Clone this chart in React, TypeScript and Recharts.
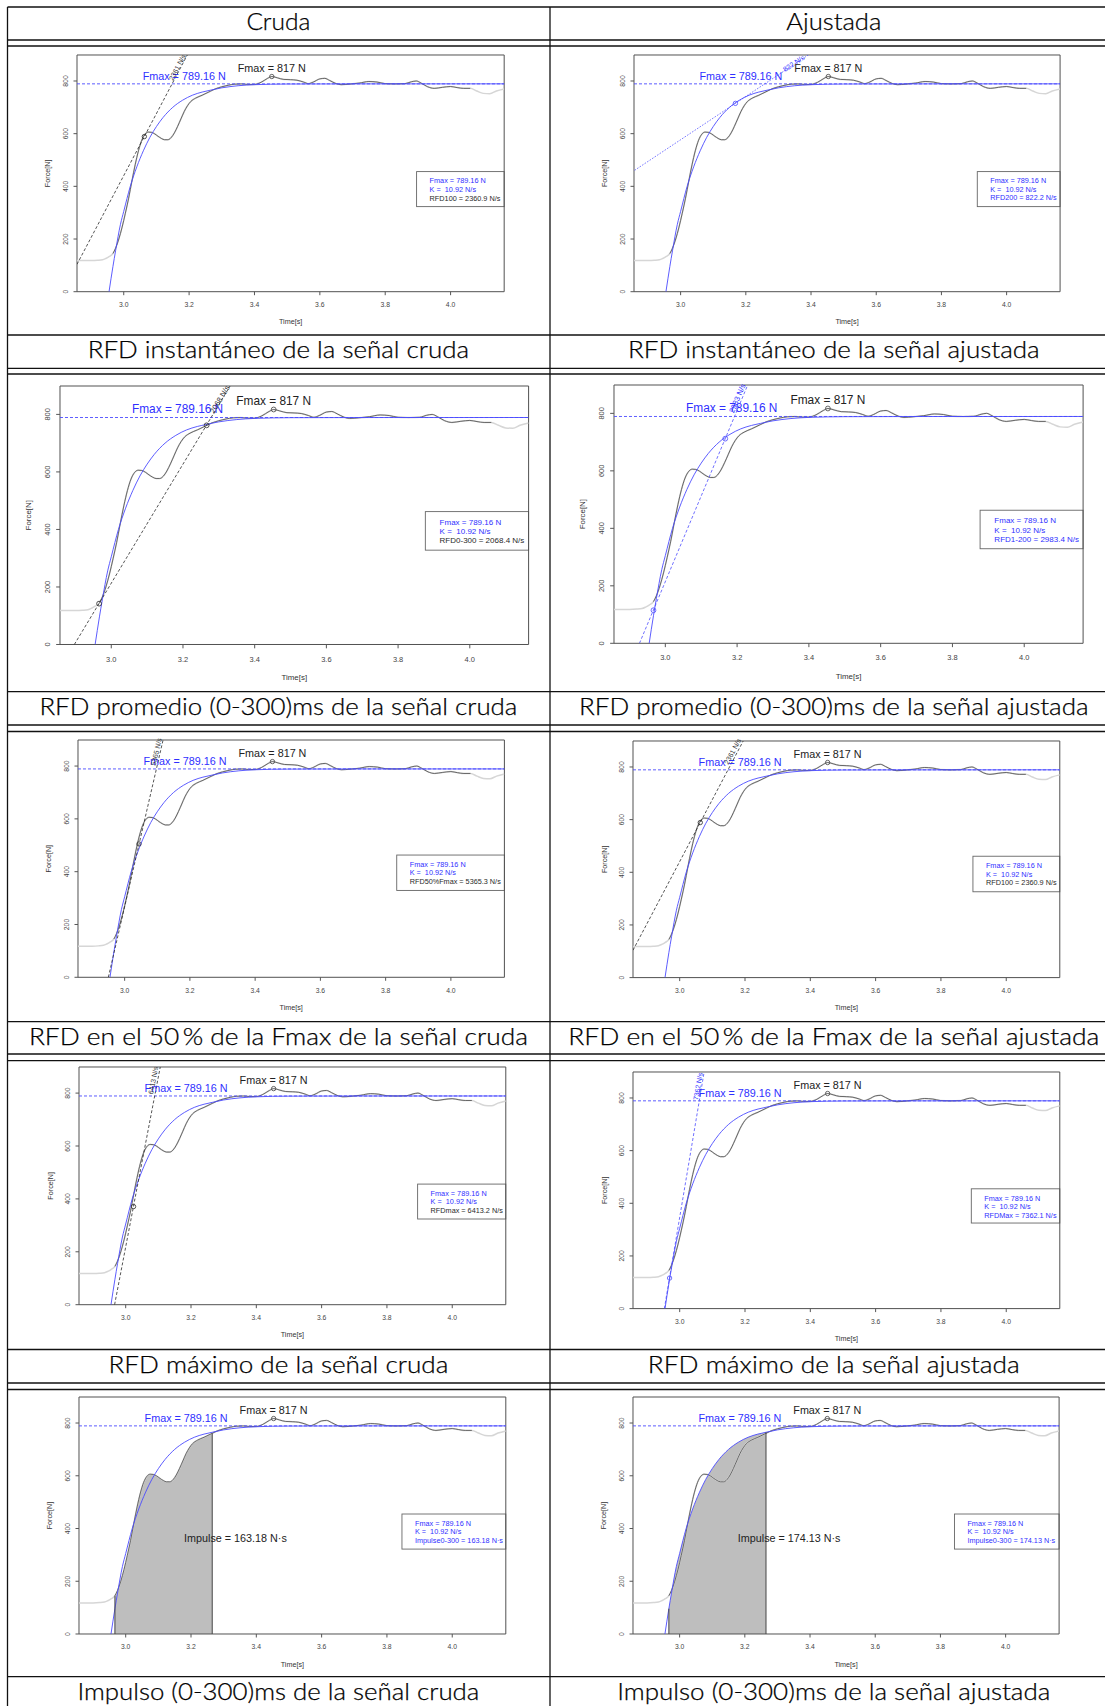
import React from "react";
import {
  ComposedChart,
  Line,
  Area,
  XAxis,
  YAxis,
  ReferenceLine,
  ReferenceDot,
  ReferenceArea,
} from "recharts";

// señal cruda: tiempo [s] y fuerza [N]
const rawTime = [
  2.857, 2.88, 2.9, 2.92, 2.935, 2.945, 2.955, 2.967, 2.975, 2.985, 2.995, 3.005, 3.015, 3.025,
  3.035, 3.045, 3.055, 3.065, 3.075, 3.085, 3.095, 3.105, 3.115, 3.125, 3.135, 3.145, 3.155,
  3.165, 3.175, 3.185, 3.195, 3.205, 3.22, 3.24, 3.265, 3.28, 3.3, 3.32, 3.34, 3.36, 3.38, 3.4,
  3.42, 3.44, 3.453, 3.47, 3.49, 3.51, 3.53, 3.55, 3.565, 3.58, 3.6, 3.615, 3.63, 3.65, 3.665,
  3.69, 3.72, 3.75, 3.775, 3.8, 3.83, 3.86, 3.88, 3.895, 3.91, 3.93, 3.95, 3.975, 4.0, 4.02,
  4.04, 4.06, 4.08, 4.1, 4.12, 4.14, 4.164,
];
const rawForce = [
  118, 118, 118, 119, 121, 126, 133, 145, 165, 200, 245, 298, 355, 420, 482, 535, 575, 598, 606,
  605, 599, 590, 582, 577, 577, 585, 603, 628, 656, 684, 706, 722, 735, 746, 761, 770, 778, 784,
  788, 789, 787, 787, 795, 810, 817, 812, 806, 805, 803, 796, 790, 796, 808, 810, 802, 790, 786,
  788, 792, 798, 796, 790, 789, 790, 797, 800, 792, 778, 772, 776, 779, 775, 772, 772, 762, 753,
  752, 762, 770,
];

// señal ajustada (curva azul)
const fitTime = [
  2.955, 2.967, 2.975, 2.99, 3.0, 3.02, 3.04, 3.06, 3.08, 3.1, 3.12, 3.15, 3.18, 3.21, 3.24,
  3.265, 3.3, 3.35, 3.4, 3.5, 3.7, 4.164,
];
const fitForce = [
  0, 96, 155, 256, 305, 400, 474, 535, 586, 627, 661, 700, 727, 746, 758, 765, 774, 782, 786,
  788.5, 789, 789.16,
];

const xTicks = [3.0, 3.2, 3.4, 3.6, 3.8, 4.0];
const yTicks = [0, 200, 400, 600, 800];
const X_DOMAIN: [number, number] = [2.857, 4.164];
const Y_DOMAIN: [number, number] = [0, 898.7];

const FMAX_FIT = 789.16;
const FMAX_RAW = 817;
const T_PEAK = 3.453;
const DARK_FROM = 2.967;
const DARK_TO = 4.06;
const IMP_FROM = 2.967;
const IMP_TO = 3.265;

// rectas tangentes (dos puntos cada una)
const tan100 = [{ t: 2.857, f: 104 }, { t: 3.195, f: 900 }];
const tan200 = [{ t: 2.859, f: 461 }, { t: 3.393, f: 900 }];
const tan0300 = [{ t: 2.897, f: 0 }, { t: 3.332, f: 900 }];
const tan1200 = [{ t: 2.928, f: 0 }, { t: 3.23, f: 900 }];
const tan50 = [{ t: 2.95, f: 0 }, { t: 3.118, f: 900 }];
const tanMaxRaw = [{ t: 2.966, f: 0 }, { t: 3.106, f: 900 }];
const tanMaxFit = [{ t: 2.953, f: 0 }, { t: 3.075, f: 900 }];

const rawSeries = rawTime.map((t, i) => ({ t, f: rawForce[i] }));
const rawDark = rawSeries.filter((d) => d.t >= DARK_FROM && d.t <= DARK_TO);
const fitSeries = fitTime.map((t, i) => ({ t, f: fitForce[i] }));
const rawImpulse = rawSeries.filter((d) => d.t >= IMP_FROM && d.t <= IMP_TO);
const fitImpulse = fitSeries.filter((d) => d.t >= IMP_FROM && d.t <= IMP_TO);

const BLUE = "#2f2fff";
const BLUE_LINE = "#4b4bff";
const DARK = "#2a2a2a";
const RFONT = "'Liberation Sans', Arial, sans-serif";

type Pt = { t: number; f: number };
type PanelDef = {
  tangent?: Pt[];
  tanColor?: string;
  tanDash?: string;
  slope?: number;
  slopeText?: string;
  slopeAt?: Pt;
  marks: Pt[];
  markColor: string;
  legend3: string;
  legend3Color: string;
  legendBox: [number, number, number];
  impulse?: "raw" | "fit";
  impulseText?: string;
};

const panels: PanelDef[] = [
  {
    tangent: tan100, tanColor: DARK, tanDash: "3 2", slope: 2360.9, slopeText: "2361 N/s",
    slopeAt: { t: 3.164, f: 852 }, marks: [{ t: 3.063, f: 589 }], markColor: DARK,
    legend3: "RFD100 = 2360.9 N/s", legend3Color: DARK, legendBox: [3.896, 323, 456],
  },
  {
    tangent: tan200, tanColor: BLUE_LINE, tanDash: "1.5 1.5", slope: 822.2, slopeText: "822 N/s",
    slopeAt: { t: 3.347, f: 867 }, marks: [{ t: 3.168, f: 715 }], markColor: BLUE_LINE,
    legend3: "RFD200 = 822.2 N/s", legend3Color: BLUE, legendBox: [3.91, 323, 456],
  },
  {
    tangent: tan0300, tanColor: DARK, tanDash: "3 2", slope: 2068.4, slopeText: "2068 N/s",
    slopeAt: { t: 3.303, f: 852 }, marks: [{ t: 2.966, f: 142 }, { t: 3.266, f: 762 }],
    markColor: DARK, legend3: "RFD0-300 = 2068.4 N/s", legend3Color: DARK,
    legendBox: [3.876, 328, 462],
  },
  {
    tangent: tan1200, tanColor: BLUE_LINE, tanDash: "3 2", slope: 2983.4, slopeText: "2983 N/s",
    slopeAt: { t: 3.201, f: 852 }, marks: [{ t: 2.967, f: 115 }, { t: 3.167, f: 712 }],
    markColor: BLUE_LINE, legend3: "RFD1-200 = 2983.4 N/s", legend3Color: BLUE,
    legendBox: [3.877, 329, 463],
  },
  {
    tangent: tan50, tanColor: DARK, tanDash: "3 2", slope: 5365.3, slopeText: "5365 N/s",
    slopeAt: { t: 3.097, f: 854 }, marks: [{ t: 3.044, f: 505 }], markColor: DARK,
    legend3: "RFD50%Fmax = 5365.3 N/s", legend3Color: DARK, legendBox: [3.834, 329, 463],
  },
  {
    tangent: tan100, tanColor: DARK, tanDash: "3 2", slope: 2360.9, slopeText: "2361 N/s",
    slopeAt: { t: 3.162, f: 859 }, marks: [{ t: 3.063, f: 589 }], markColor: DARK,
    legend3: "RFD100 = 2360.9 N/s", legend3Color: DARK, legendBox: [3.898, 326, 461],
  },
  {
    tangent: tanMaxRaw, tanColor: DARK, tanDash: "3 2", slope: 6413.2, slopeText: "6413 N/s",
    slopeAt: { t: 3.084, f: 848 }, marks: [{ t: 3.024, f: 371 }], markColor: DARK,
    legend3: "RFDmax = 6413.2 N/s", legend3Color: DARK, legendBox: [3.894, 324, 456],
  },
  {
    tangent: tanMaxFit, tanColor: BLUE_LINE, tanDash: "3 2", slope: 7362.1, slopeText: "7362 N/s",
    slopeAt: { t: 3.056, f: 844 }, marks: [{ t: 2.969, f: 116 }], markColor: BLUE_LINE,
    legend3: "RFDMax = 7362.1 N/s", legend3Color: BLUE, legendBox: [3.893, 325, 455],
  },
  {
    marks: [], markColor: DARK, impulse: "raw", impulseText: "Impulse = 163.18 N·s",
    legend3: "Impulse0-300 = 163.18 N·s", legend3Color: BLUE, legendBox: [3.846, 322, 455],
  },
  {
    marks: [], markColor: DARK, impulse: "fit", impulseText: "Impulse = 174.13 N·s",
    legend3: "Impulse0-300 = 174.13 N·s", legend3Color: BLUE, legendBox: [3.843, 322, 455],
  },
];

// plot-area rectangles on the page (left, right, top, bottom)
const panelBoxes = [
  { L: 77.1, R: 504.3, T: 55.3, B: 292 },
  { L: 634.3, R: 1060.4, T: 55.3, B: 292 },
  { L: 60, R: 528.6, T: 385.5, B: 644 },
  { L: 613.9, R: 1083, T: 385, B: 643.3 },
  { L: 77.9, R: 504.3, T: 740, B: 977.3 },
  { L: 632.5, R: 1059.3, T: 740.7, B: 977.3 },
  { L: 78.6, R: 505.4, T: 1067.3, B: 1305 },
  { L: 632.5, R: 1059.3, T: 1071.7, B: 1308.3 },
  { L: 78.6, R: 505.4, T: 1397.3, B: 1634.3 },
  { L: 633.2, R: 1059.3, T: 1397.3, B: 1634.3 },
];

const headers = ["Cruda", "Ajustada"];
const captions = [
  ["RFD instantáneo de la señal cruda", "RFD instantáneo de la señal ajustada"],
  ["RFD promedio (0-300)ms de la señal cruda", "RFD promedio (0-300)ms de la señal ajustada"],
  ["RFD en el 50\u2009% de la Fmax de la señal cruda", "RFD en el 50\u2009% de la Fmax de la señal ajustada"],
  ["RFD máximo de la señal cruda", "RFD máximo de la señal ajustada"],
  ["Impulso (0-300)ms de la señal cruda", "Impulso (0-300)ms de la señal ajustada"],
];
const headerWidths = [64, 95];
const captionWidths = [
  [381.5, 411.7],
  [478, 509.6],
  [499, 531],
  [340, 372],
  [402, 433],
];
const captionBaselines = [358, 715, 1044.7, 1372.5, 1699.5];
const hLines = [7, 40, 46, 335, 368.3, 374, 691.7, 725, 731.5, 1021.7, 1054, 1060.7, 1349.5, 1383, 1389.5, 1676.7];
const colCenters = [278.4, 833.8];

function TableFrame() {
  const font = "Lato, 'Open Sans', sans-serif";
  return (
    <svg width={1105} height={1706} style={{ position: "absolute", left: 0, top: 0 }}>
      {hLines.map((y) => (
        <line key={y} x1={7.5} x2={1105} y1={y} y2={y} stroke="#111" strokeWidth={1.3} />
      ))}
      <line x1={7.5} x2={7.5} y1={7} y2={1706} stroke="#111" strokeWidth={1.3} />
      <line x1={550} x2={550} y1={7} y2={1706} stroke="#111" strokeWidth={1.3} />
      {headers.map((h, i) => (
        <text key={h} x={colCenters[i]} y={30} fontSize={23} fontWeight={300} fontFamily={font} textAnchor="middle"
          textLength={headerWidths[i]} lengthAdjust="spacingAndGlyphs" fill="#000" stroke="#000" strokeWidth={0.25}>{h}</text>
      ))}
      {captions.map((row, r) =>
        row.map((c, i) => (
          <text key={c} x={colCenters[i]} y={captionBaselines[r]} fontSize={23} fontWeight={300} fontFamily={font}
            textAnchor="middle" textLength={captionWidths[r][i]} lengthAdjust="spacingAndGlyphs"
            fill="#000" stroke="#000" strokeWidth={0.25}>{c}</text>
        ))
      )}
    </svg>
  );
}

function ForcePanel({ panel, box }: { panel: PanelDef; box: { L: number; R: number; T: number; B: number } }) {
  const ML = 60, MR = 8, MT = 8, MB = 46;
  const pw = box.R - box.L;
  const ph = box.B - box.T;
  const s = pw / 427;
  const pxPerT = pw / (X_DOMAIN[1] - X_DOMAIN[0]);
  const pxPerF = ph / (Y_DOMAIN[1] - Y_DOMAIN[0]);
  const tickFs = 6.8 * s;

  const xTick = (p: any) => (
    <text x={p.x} y={MT + ph + 15.5 * s} textAnchor="middle" fontSize={tickFs} fontFamily={RFONT} fill="#444">
      {Number(p.payload.value).toFixed(1)}
    </text>
  );
  const yTick = (p: any) => {
    const cx = ML - 11.7 * s;
    return (
      <text x={cx} y={p.y} textAnchor="middle" dominantBaseline="central" fontSize={tickFs}
        fontFamily={RFONT} fill="#444" transform={`rotate(-90 ${cx} ${p.y})`}>
        {p.payload.value}
      </text>
    );
  };
  const xTitle = () => (
    <text x={ML + pw / 2} y={MT + ph + 32.6 * s} textAnchor="middle" fontSize={7.2 * s} fontFamily={RFONT} fill="#333">
      Time[s]
    </text>
  );
  const yTitle = () => {
    const cx = ML - 29 * s;
    const cy = MT + ph / 2;
    return (
      <text x={cx} y={cy} textAnchor="middle" dominantBaseline="central" fontSize={7.2 * s} fontFamily={RFONT}
        fill="#333" transform={`rotate(-90 ${cx} ${cy})`}>
        Force[N]
      </text>
    );
  };

  const angle = panel.slope ? (Math.atan((panel.slope * pxPerF) / pxPerT) * 180) / Math.PI : 0;
  const impData = panel.impulse === "raw" ? rawImpulse : fitImpulse;
  const impEnd = impData.length ? impData[impData.length - 1] : null;
  const impStart = impData.length ? impData[0] : null;
  const lb = panel.legendBox;

  return (
    <div style={{ position: "absolute", left: box.L - ML, top: box.T - MT }}>
      <ComposedChart width={pw + ML + MR} height={ph + MT + MB} margin={{ top: MT, right: MR, bottom: 0, left: 0 }}>
        <XAxis type="number" dataKey="t" domain={X_DOMAIN} ticks={xTicks} allowDataOverflow interval={0}
          axisLine={false} tickLine={{ stroke: "#555" }} tickSize={3.5 * s} height={MB} tick={xTick} label={xTitle} />
        <YAxis type="number" domain={Y_DOMAIN} ticks={yTicks} allowDataOverflow interval={0}
          axisLine={false} tickLine={{ stroke: "#555" }} tickSize={3.5 * s} width={ML} tick={yTick} label={yTitle} />

        {panel.impulse && (
          <Area data={impData} dataKey="f" type="monotone" fill="#bebebe" fillOpacity={1} stroke="none"
            baseValue={0} isAnimationActive={false} />
        )}

        <Line data={rawSeries} dataKey="f" type="monotone" stroke="#d6d6d6" strokeWidth={1.5} dot={false}
          isAnimationActive={false} />
        <Line data={rawDark} dataKey="f" type="monotone" stroke="#4a4a4a" strokeWidth={0.8} dot={false}
          isAnimationActive={false} />
        <Line data={fitSeries} dataKey="f" type="monotone" stroke={BLUE_LINE} strokeWidth={0.9} dot={false}
          isAnimationActive={false} />
        <ReferenceLine y={FMAX_FIT} stroke={BLUE_LINE} strokeDasharray="3 2" strokeWidth={0.9} />

        {panel.tangent && (
          <Line data={panel.tangent} dataKey="f" type="linear" stroke={panel.tanColor} strokeWidth={0.8}
            strokeDasharray={panel.tanDash} dot={false} isAnimationActive={false} />
        )}

        {panel.impulse && impEnd && impStart && (
          <ReferenceLine segment={[{ x: impEnd.t, y: 0 }, { x: impEnd.t, y: impEnd.f }]} stroke="#444" strokeWidth={1} />
        )}
        {panel.impulse && impEnd && impStart && (
          <ReferenceLine segment={[{ x: impStart.t, y: 0 }, { x: impStart.t, y: impStart.f }]} stroke="#444" strokeWidth={1} />
        )}

        {panel.marks.map((m, i) => (
          <ReferenceDot key={i} x={m.t} y={m.f} r={2.2 * s} fill="none" stroke={panel.markColor} strokeWidth={0.8} />
        ))}
        <ReferenceDot x={T_PEAK} y={FMAX_RAW} r={2.2 * s} fill="none" stroke="#444" strokeWidth={0.8} />

        <ReferenceDot x={3.185} y={FMAX_FIT} r={1}
          shape={(p: any) => (
            <text x={p.cx} y={p.cy - 4 * s} textAnchor="middle" fontSize={10.8 * s} fontFamily={RFONT} fill={BLUE}>
              Fmax = 789.16 N
            </text>
          )} />
        <ReferenceDot x={T_PEAK} y={FMAX_RAW} r={1}
          shape={(p: any) => (
            <text x={p.cx} y={p.cy - 4.3 * s} textAnchor="middle" fontSize={10.8 * s} fontFamily={RFONT} fill="#222">
              Fmax = 817 N
            </text>
          )} />

        {panel.slopeAt && (
          <ReferenceDot x={panel.slopeAt.t} y={panel.slopeAt.f} r={1}
            shape={(p: any) => (
              <text x={p.cx} y={p.cy} textAnchor="middle" dominantBaseline="central" fontSize={7 * s}
                fontFamily={RFONT} fill={panel.tanColor === DARK ? "#333" : BLUE}
                transform={`rotate(${-angle} ${p.cx} ${p.cy})`}>
                {panel.slopeText}
              </text>
            )} />
        )}

        {panel.impulseText && (
          <ReferenceDot x={3.336} y={365} r={1}
            shape={(p: any) => (
              <text x={p.cx} y={p.cy + 3.9 * s} textAnchor="middle" fontSize={10.8 * s} fontFamily={RFONT} fill="#222">
                {panel.impulseText}
              </text>
            )} />
        )}

        <ReferenceArea x1={lb[0]} x2={X_DOMAIN[1]} y1={lb[1]} y2={lb[2]}
          shape={(r: any) => (
            <g>
              <rect x={r.x} y={r.y} width={r.width} height={r.height} fill="#fff" stroke="#666" strokeWidth={0.9} />
              <text x={r.x + 13 * s} y={r.y + 11.9 * s} fontSize={7.3 * s} fontFamily={RFONT} fill={BLUE}>
                Fmax = 789.16 N
              </text>
              <text x={r.x + 13 * s} y={r.y + 20.4 * s} fontSize={7.3 * s} fontFamily={RFONT} fill={BLUE}>
                {"K = \u00a010.92 N/s"}
              </text>
              <text x={r.x + 13 * s} y={r.y + 28.9 * s} fontSize={7.3 * s} fontFamily={RFONT} fill={panel.legend3Color}>
                {panel.legend3}
              </text>
            </g>
          )} />

        <ReferenceArea x1={X_DOMAIN[0]} x2={X_DOMAIN[1]} y1={Y_DOMAIN[0]} y2={Y_DOMAIN[1]}
          fill="none" fillOpacity={0} stroke="#505050" strokeWidth={1} />
      </ComposedChart>
    </div>
  );
}

export default function App() {
  return (
    <div style={{ position: "absolute", left: 0, top: 0, width: 1105, height: 1706, overflow: "hidden", background: "#fff" }}>
      <TableFrame />
      {panels.map((p, i) => (
        <ForcePanel key={i} panel={p} box={panelBoxes[i]} />
      ))}
    </div>
  );
}
